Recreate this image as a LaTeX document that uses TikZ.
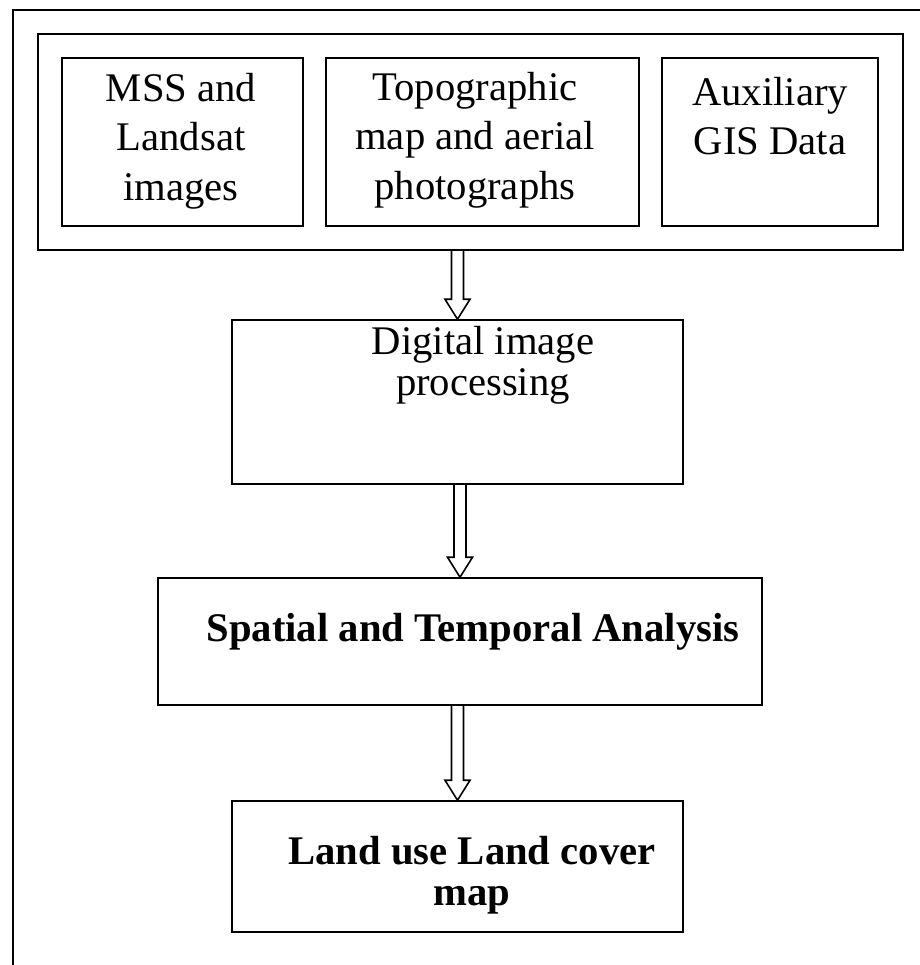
\documentclass[tikz,border=0pt]{standalone}
\usepackage{fontspec}
\setmainfont{Liberation Serif}
\usetikzlibrary{calc}

% hollow block arrow from the bottom of one box to the top of the next
\newcommand{\hollowdown}[2]{%
  \draw[flow] let \p1=(#1.south), \p2=(#2.north) in
    (\x2-4.5pt,\y1) -- (\x2-4.5pt,\y2+15pt) -- (\x2-9.4pt,\y2+15pt) -- (\p2)
    -- (\x2+9.4pt,\y2+15pt) -- (\x2+4.5pt,\y2+15pt) -- (\x2+4.5pt,\y1);}

\begin{document}
\begin{tikzpicture}[
            x=0.75pt, y=-0.75pt,
            box/.style={rectangle, draw, line width=1.2pt, inner sep=0pt},
            src box/.style={box, minimum height=126pt},
            label/.style={align=center, inner sep=0pt, font=\fontsize{30.5}{37}\selectfont},
            bold label/.style={label, font=\fontsize{30.5}{37}\selectfont\bfseries},
            flow/.style={line width=1.2pt, line join=miter}
    ]
        \useasboundingbox (0,0) rectangle (920,965);

        % page frame
        \draw[line width=1.2pt] (13,965) -- (13,10) -- (920,10);

        % Data sources
        \node[box, minimum width=648.75pt, minimum height=162pt] (sources) at (470.5,142) {};
        \node[src box, minimum width=180.75pt] (mss) at (182.5,142) {};
        \node[src box, minimum width=234.75pt] (topo) at (482.5,142) {};
        \node[src box, minimum width=162pt] (aux) at (770,142) {};
        \node[label] (mss_txt) at (181,141) {MSS and\\Landsat\\images};
        \node[label] (topo_txt) at (475,140) {Topographic\\map and aerial\\photographs};
        \node[label] (aux_txt) at (770,116) {Auxiliary\\GIS Data};

        % Processing
        \node[box, minimum width=338.25pt, minimum height=123pt] (dip) at (457.5,402) {};
        \node[label, font=\fontsize{30.5}{30.5}\selectfont] (dip_txt) at (483,365) {Digital image\\processing};

        % Analysis
        \node[box, minimum width=453pt, minimum height=95.25pt] (sta) at (460,641.5) {};
        \node[bold label] (sta_txt) at (473,632) {Spatial and Temporal Analysis};

        % Result
        \node[box, minimum width=338.25pt, minimum height=98.25pt] (lulc) at (457.5,866.5) {};
        \node[bold label, font=\fontsize{30.5}{31}\selectfont\bfseries] (lulc_txt) at (472,875) {Land use Land cover\\map};

        % Arrows
        \hollowdown{sources}{dip}
        \hollowdown{dip}{sta}
        \hollowdown{sta}{lulc}

    \end{tikzpicture}
\end{document}
